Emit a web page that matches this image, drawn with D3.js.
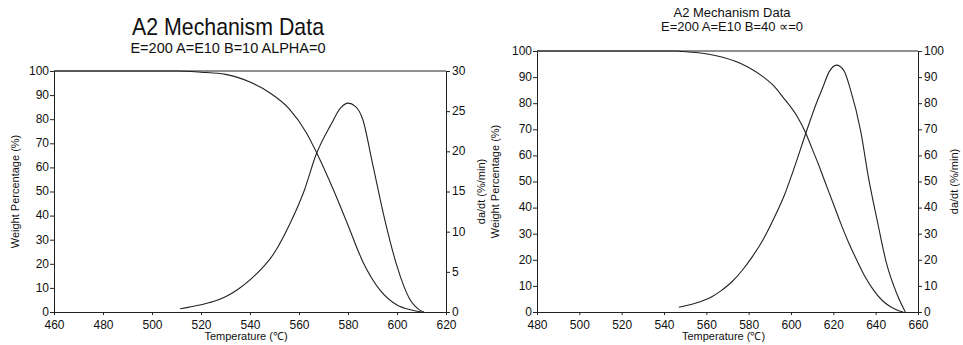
<!DOCTYPE html>
<html>
<head>
<meta charset="utf-8">
<script src="https://cdn.jsdelivr.net/npm/d3@7"></script>
<style>
  body { margin: 0; background: #fff; }
  svg text { font-family: "Liberation Sans", Arial, sans-serif; fill: #111; }
  .axis path, .axis line { stroke: #222; stroke-width: 1; }
</style>
</head>
<body>
<script>
// Left panel: B=10
const leftTemp = [460, 510, 520, 530, 540, 548, 556, 563, 567, 574, 580, 586, 593, 600, 606, 610];
const leftWeight = [100, 100, 99.5, 98.6, 95.4, 91, 84.3, 74.4, 66.5, 50.8, 36, 21, 9.2, 2.9, 0.8, 0];
const leftRateTemp = [511.5, 520, 525, 530, 535, 540, 550, 556, 562, 567, 573, 577, 580, 583, 586, 590, 595, 600, 605, 609, 611];
const leftRate = [0.4, 0.9, 1.3, 1.9, 2.8, 4.0, 7.4, 10.8, 15, 19.6, 23.3, 25.4, 26.0, 25.6, 24.0, 18.5, 11.5, 5.7, 1.7, 0.3, 0];
const leftXTicks = [460, 480, 500, 520, 540, 560, 580, 600, 620];
const leftYTicks = [0, 10, 20, 30, 40, 50, 60, 70, 80, 90, 100];
const leftRateTicks = [0, 5, 10, 15, 20, 25, 30];

// Right panel: B=40
const rightTemp = [480, 545, 552, 563, 576, 587, 592, 596, 603, 607, 610, 613, 616, 620, 623, 627, 631, 635, 639, 643, 647, 650, 653];
const rightWeight = [100, 100, 99.6, 98.5, 95.3, 90, 86.5, 82.5, 74.8, 68.5, 62.5, 56.5, 50, 41.5, 35, 27, 20, 13.5, 8.4, 4.5, 2, 0.8, 0];
const rightRateTemp = [547, 557, 563, 567, 572, 577, 582, 587, 592, 597, 601, 607, 612, 615, 618, 621.5, 625, 628, 633, 636.5, 641, 645, 650, 654];
const rightRate = [1.8, 3.9, 6, 8.2, 11.5, 16, 21.5, 28, 36, 45, 54, 68.5, 80, 86, 92, 94.6, 92.5, 85.5, 69, 52, 34, 19, 7, 0];
const rightXTicks = [480, 500, 520, 540, 560, 580, 600, 620, 640, 660];
const rightYTicks = [0, 10, 20, 30, 40, 50, 60, 70, 80, 90, 100];
const rightRateTicks = [0, 10, 20, 30, 40, 50, 60, 70, 80, 90, 100];

const svg = d3.select("body").append("svg")
    .attr("width", 963)
    .attr("height", 345);

function drawPanel(p) {
    const x = d3.scaleLinear().domain(d3.extent(p.xTicks)).range([p.left, p.right]);
    const y = d3.scaleLinear().domain([0, 100]).range([p.bottom, p.top]);
    const yRate = d3.scaleLinear().domain(d3.extent(p.rateTicks)).range([p.bottom, p.top]);

    // titles
    const t = svg.append("text")
        .attr("x", p.titleX).attr("y", p.titleY)
        .attr("text-anchor", "middle")
        .style("font-size", p.titleSize + "px")
        .text("A2 Mechanism Data");
    if (p.titleWidth) t.attr("textLength", p.titleWidth).attr("lengthAdjust", "spacingAndGlyphs");
    svg.append("text")
        .attr("x", p.titleX).attr("y", p.subY)
        .attr("text-anchor", "middle")
        .style("font-size", p.subSize + "px")
        .text(p.subtitle);

    // top border
    svg.append("line")
        .attr("x1", p.left).attr("x2", p.right)
        .attr("y1", p.top).attr("y2", p.top)
        .attr("stroke", "#222");

    // axes
    const gx = svg.append("g")
        .attr("class", "axis")
        .attr("transform", `translate(0,${p.bottom})`)
        .call(d3.axisBottom(x).tickValues(p.xTicks).tickSize(3).tickSizeOuter(0).tickFormat(d3.format("d")));
    const gy = svg.append("g")
        .attr("class", "axis")
        .attr("transform", `translate(${p.left},0)`)
        .call(d3.axisLeft(y).tickValues(p.yTicks).tickSize(4).tickPadding(1).tickSizeOuter(0));
    const gr = svg.append("g")
        .attr("class", "axis")
        .attr("transform", `translate(${p.right},0)`)
        .call(d3.axisRight(yRate).tickValues(p.rateTicks).tickSize(4).tickPadding(2).tickSizeOuter(0));
    [gx, gy, gr].forEach(g => g.selectAll("text")
        .style("font-size", "12px")
        .style("font-family", "'Liberation Sans', Arial, sans-serif"));
    gx.selectAll("text").attr("dy", "0.9em");
    gy.selectAll("text").attr("dy", "0.28em");
    gr.selectAll("text").attr("dy", "0.28em");

    // axis titles
    svg.append("text")
        .attr("x", (p.left + p.right) / 2 - 4).attr("y", 340)
        .attr("text-anchor", "middle")
        .style("font-size", "11px")
        .text("Temperature (\u2103)");
    svg.append("text")
        .attr("transform", `translate(${p.yLabelX},${(p.top + p.bottom) / 2}) rotate(-90)`)
        .attr("text-anchor", "middle")
        .style("font-size", "11px")
        .text("Weight Percentage (%)");
    svg.append("text")
        .attr("transform", `translate(${p.rateLabelX},${(p.top + p.bottom) / 2}) rotate(-90)`)
        .attr("text-anchor", "middle")
        .style("font-size", "11px")
        .text("da/dt (%/min)");

    // weight curve
    svg.append("path")
        .datum(p.temp.map((t, i) => ({t: t, v: p.weight[i]})))
        .attr("fill", "none")
        .attr("stroke", "#222")
        .attr("stroke-width", 1.1)
        .attr("d", d3.line().curve(d3.curveMonotoneX)
            .x(d => x(d.t))
            .y(d => y(d.v)));

    // rate curve
    svg.append("path")
        .datum(p.rateTemp.map((t, i) => ({t: t, v: p.rate[i]})))
        .attr("fill", "none")
        .attr("stroke", "#222")
        .attr("stroke-width", 1.1)
        .attr("d", d3.line().curve(d3.curveMonotoneX)
            .x(d => x(d.t))
            .y(d => yRate(d.v)));
}

drawPanel({
    left: 54, right: 446, top: 71, bottom: 312,
    xTicks: leftXTicks, yTicks: leftYTicks, rateTicks: leftRateTicks,
    temp: leftTemp, weight: leftWeight, rateTemp: leftRateTemp, rate: leftRate,
    titleX: 228, titleY: 35, titleSize: 24, titleWidth: 192, subY: 53, subSize: 14.5,
    subtitle: "E=200 A=E10 B=10 ALPHA=0",
    yLabelX: 19, rateLabelX: 485
});

drawPanel({
    left: 537, right: 918, top: 51, bottom: 312,
    xTicks: rightXTicks, yTicks: rightYTicks, rateTicks: rightRateTicks,
    temp: rightTemp, weight: rightWeight, rateTemp: rightRateTemp, rate: rightRate,
    titleX: 732, titleY: 17, titleSize: 13, subY: 31, subSize: 13,
    subtitle: "E=200 A=E10 B=40 \u221D=0",
    yLabelX: 499, rateLabelX: 958
});
</script>
</body>
</html>
